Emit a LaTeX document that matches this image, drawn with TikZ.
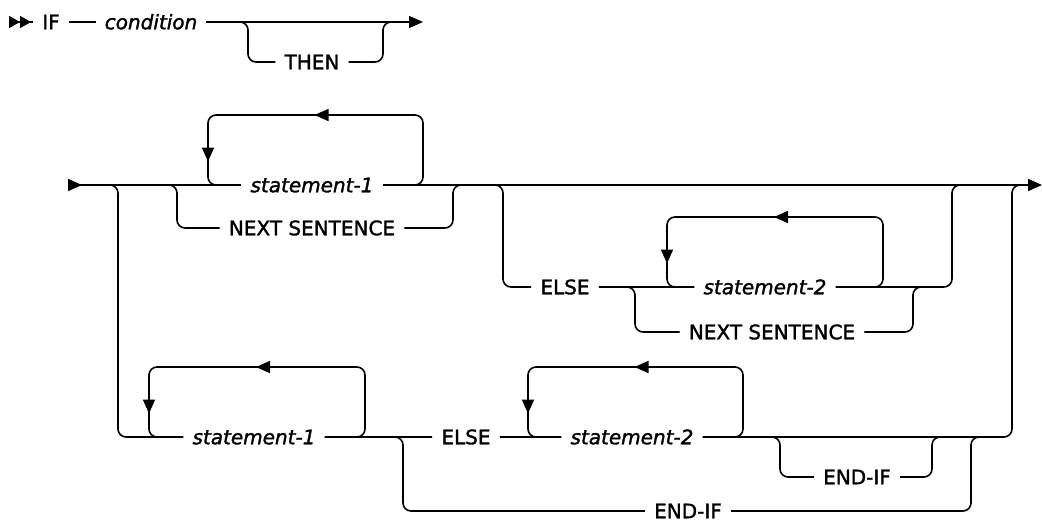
\documentclass[tikz,border=0pt]{standalone}
\usepackage{fontspec}
\newfontfamily\railfont{DejaVu Sans}[FakeBold=1.6]
\usetikzlibrary{arrows.meta,decorations.markings}

\tikzset{tri/.tip={Triangle[length=14pt,width=12pt]}}

\begin{document}
\begin{tikzpicture}[
        x=1pt, y=1pt,
        rail/.style={line width=1.6pt, rounded corners=8pt},
        word/.style={font=\railfont\fontsize{20}{24}\selectfont, inner xsep=9pt, inner ysep=0pt, text height=14.5pt, text depth=0pt},
        var/.style={word, font=\railfont\fontsize{20}{24}\selectfont\itshape},
        loopback/.style={postaction={decorate}, decoration={markings,
            mark=at position 0.5 with {\arrow{tri}},
            mark=at position -34pt with {\arrow{tri}}}}
      ]
      \useasboundingbox (0,0) rectangle (1042,-523);
      % first line: IF condition [THEN]
      \coordinate (go0) at (9,-22);
      \coordinate (end0) at (423,-22);
      \coordinate (t0a) at (248,-22);
      \coordinate (t0b) at (383,-22);
      \node[word] (if) at (51,-22) {IF};
      \node[var] (cond) at (151,-22) {condition};
      \node[word] (then) at (312,-62) {THEN};
      \draw[rail, {tri[reversed,length=11pt]tri[reversed,length=11pt]}-] (go0) -- (if);
      \draw[rail] (if) -- (cond);
      \draw[rail, -tri] (cond) -- (end0);
      \draw[rail] ([xshift=-10pt]t0a) -| (t0a |- then) -- (then) -- (t0b |- then) |- ([xshift=10pt]t0b);
      % second line
      \coordinate (go1) at (68,-185);
      \coordinate (end1) at (1042,-185);
      \coordinate (aa) at (118,-185);
      \coordinate (ab) at (1012,-185);
      \coordinate (n1a) at (177,-185);
      \coordinate (n1b) at (453,-185);
      \coordinate (l1a) at (208,-185);
      \coordinate (l1b) at (423,-185);
      \coordinate (e1a) at (503,-185);
      \coordinate (e1b) at (952,-185);
      \node[var] (st1) at (312,-185) {statement-1};
      \node[word] (ns1) at (312,-228) {NEXT SENTENCE};
      \draw[rail, {tri[reversed]}-] (go1) -- (st1);
      \draw[rail, -tri] (st1) -- (end1);
      \draw[rail, loopback] ([xshift=-12pt]l1b) -- (l1b) -- ++(0,70) -| (l1a) -- ([xshift=14pt]l1a);
      \draw[rail] ([xshift=-10pt]n1a) -| (n1a |- ns1) -- (ns1) -- (n1b |- ns1) |- ([xshift=10pt]n1b);
      % ELSE branch
      \coordinate (n2a) at (635,-287);
      \coordinate (n2b) at (913,-287);
      \coordinate (l2a) at (667,-287);
      \coordinate (l2b) at (883,-287);
      \node[word] (else1) at (565,-287) {ELSE};
      \node[var] (st2) at (765,-287) {statement-2};
      \node[word] (ns2) at (772,-332) {NEXT SENTENCE};
      \draw[rail] ([xshift=-10pt]e1a) -| (e1a |- else1) -- (else1) -- (st2) -- (e1b |- st2) |- ([xshift=10pt]e1b);
      \draw[rail, loopback] ([xshift=-12pt]l2b) -- (l2b) -- ++(0,70) -| (l2a) -- ([xshift=14pt]l2a);
      \draw[rail] ([xshift=-10pt]n2a) -| (n2a |- ns2) -- (ns2) -- (n2b |- ns2) |- ([xshift=10pt]n2b);
      % lower branch
      \coordinate (l3a) at (149,-437);
      \coordinate (l3b) at (365,-437);
      \coordinate (f1a) at (403,-437);
      \coordinate (f1b) at (971,-437);
      \coordinate (l4a) at (528,-437);
      \coordinate (l4b) at (743,-437);
      \coordinate (f2a) at (780,-437);
      \coordinate (f2b) at (932,-437);
      \node[var] (st3) at (254,-437) {statement-1};
      \node[word] (else3) at (466,-437) {ELSE};
      \node[var] (st4) at (632,-437) {statement-2};
      \node[word] (endif1) at (688,-511) {END-IF};
      \node[word] (endif2) at (857,-477) {END-IF};
      \draw[rail] ([xshift=-10pt]aa) -| (aa |- st3) -- (st3) -- (else3) -- (st4) -- (ab |- st4) |- ([xshift=10pt]ab);
      \draw[rail, loopback] ([xshift=-12pt]l3b) -- (l3b) -- ++(0,70) -| (l3a) -- ([xshift=14pt]l3a);
      \draw[rail, loopback] ([xshift=-12pt]l4b) -- (l4b) -- ++(0,70) -| (l4a) -- ([xshift=14pt]l4a);
      \draw[rail] ([xshift=-10pt]f1a) -| (f1a |- endif1) -- (endif1) -- (f1b |- endif1) |- ([xshift=10pt]f1b);
      \draw[rail] ([xshift=-10pt]f2a) -| (f2a |- endif2) -- (endif2) -- (f2b |- endif2) |- ([xshift=10pt]f2b);
    \end{tikzpicture}
\end{document}
